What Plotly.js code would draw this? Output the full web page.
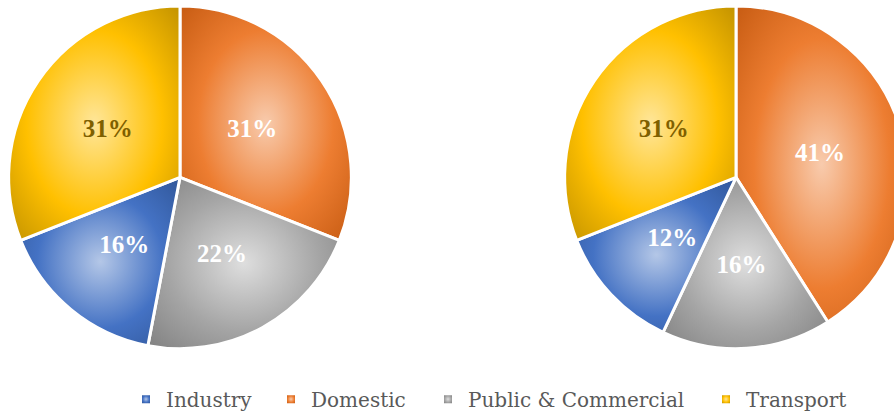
<!DOCTYPE html>
<html><head><meta charset="utf-8">
<script src="https://cdn.plot.ly/plotly-3.0.1.min.js"></script>
<style>html,body{margin:0;padding:0;background:#fff;overflow:hidden;width:894px;height:419px}#chart{width:920px;height:419px}</style>
</head><body><div id="chart"></div>
<script>
// legend order
const categories = ["Industry", "Domestic", "Public & Commercial", "Transport"];
const leftValues = [16, 31, 22, 31];
const rightValues = [12, 41, 16, 31];
const baseColors = ["#4472C4", "#ED7D31", "#A5A5A5", "#FFC000"];
const lightColors = ["#B4C7E7", "#F8CBAD", "#DEDEDE", "#FFE699"];
const darkColors = ["#2F5597", "#C55A11", "#7F7F7F", "#BF9000"];
const textColors = ["#FFFFFF", "#FFFFFF", "#FFFFFF", "#7F6000"];
// clockwise slice order from 12 o'clock (indices into categories)
const sliceOrder = [1, 2, 0, 3];

const W = 920, H = 419;
const LABEL_RADIUS = 0.51;
const pick = (arr) => sliceOrder.map(i => arr[i]);

function pie(vals, dom){
  return {
    type: 'pie', values: pick(vals), labels: pick(categories), sort: false, direction: 'clockwise',
    rotation: 0, domain: dom, showlegend: false,
    marker: {colors: pick(baseColors), line: {color: '#FFFFFF', width: 3}},
    texttemplate: '%{percent:.0%}', textposition: 'inside', insidetextorientation: 'horizontal',
    textfont: {family: '"Liberation Serif", serif', size: 25, color: pick(textColors), weight: 'bold'},
    hoverinfo: 'none'
  };
}
const yDom = [1 - 352/H, 1 - 6/H];
const data = [
  pie(leftValues, {x: [7/W, 353/W], y: yDom}),
  pie(rightValues, {x: [563/W, 909/W], y: yDom})
];
const legendMarkerX = [148, 293, 450, 728];
const legendNames = ['legend', 'legend2', 'legend3', 'legend4'];
const layout = {
  width: W, height: H, margin: {l:0, r:0, t:0, b:0},
  paper_bgcolor: '#FFFFFF', plot_bgcolor: '#FFFFFF',
  xaxis: {visible: false, range: [0, 1]}, yaxis: {visible: false, range: [0, 1]},
  showlegend: true
};
categories.forEach(function(c, i){
  data.push({type: 'scatter', mode: 'markers', x: [null], y: [null], name: c,
    marker: {symbol: 'square', size: 8, color: baseColors[i]}, legend: legendNames[i], hoverinfo: 'none'});
  layout[legendNames[i]] = {x: (legendMarkerX[i] - 22) / W, xanchor: 'left', y: 1 - 403/H, yanchor: 'middle',
    font: {family: '"DejaVu Serif", serif', size: 20, color: '#595959'}, bgcolor: 'rgba(0,0,0,0)', borderwidth: 0};
});
Plotly.newPlot('chart', data, layout, {staticPlot: true}).then(function(gd){
  const svg = gd.querySelector('svg.main-svg');
  const NS = 'http://www.w3.org/2000/svg';
  let defs = svg.querySelector('defs');
  if(!defs){ defs = document.createElementNS(NS,'defs'); svg.insertBefore(defs, svg.firstChild); }
  const map = {};
  baseColors.forEach(function(c, i){
    const g = document.createElementNS(NS, 'radialGradient');
    g.setAttribute('id', 'rg' + i);
    g.setAttribute('cx', '0.5'); g.setAttribute('cy', '0.5'); g.setAttribute('r', '0.72');
    [[0, lightColors[i]], [0.55, c], [1, darkColors[i]]].forEach(function(s){
      const st = document.createElementNS(NS, 'stop');
      st.setAttribute('offset', s[0]); st.setAttribute('stop-color', s[1]);
      g.appendChild(st);
    });
    defs.appendChild(g);
    const tmp = document.createElement('div'); tmp.style.color = c; document.body.appendChild(tmp);
    map[getComputedStyle(tmp).color.replace(/\s/g,'')] = 'url(#rg' + i + ')';
    tmp.remove();
  });
  gd.querySelectorAll('g.slice path.surface, g.legendpoints path').forEach(function(p){
    const f = (p.style.fill || '').replace(/\s/g,'');
    if(map[f]) p.style.fill = map[f];
  });
  // move labels to a fixed fraction of the radius along each slice's bisector (Excel-like placement)
  const svgRect = svg.getBoundingClientRect();
  const pieTraces = gd.querySelectorAll('.pielayer .trace');
  pieTraces.forEach(function(tr, ti){
    const cd = gd.calcdata[ti];
    const cx = cd[0].cx, cy = cd[0].cy, r = cd[0].r;
    if(!(r > 0)) return;
    const vals = cd.map(p => p.v);
    const tot = vals.reduce((a,b)=>a+b,0);
    let acc = 0;
    tr.querySelectorAll('.slice').forEach(function(sl, si){
      const a = (acc + vals[si]/2) / tot * 2 * Math.PI;
      acc += vals[si];
      const t = sl.querySelector('text');
      if(!t) return;
      const b = t.getBoundingClientRect();
      const curX = b.left + b.width/2 - svgRect.left, curY = b.top + b.height/2 - svgRect.top;
      const tx = cx + LABEL_RADIUS * r * Math.sin(a), ty = cy - LABEL_RADIUS * r * Math.cos(a);
      t.setAttribute('transform', 'translate(' + (tx - curX) + ',' + (ty - curY) + ') ' + (t.getAttribute('transform') || ''));
    });
  });
});
</script></body></html>
